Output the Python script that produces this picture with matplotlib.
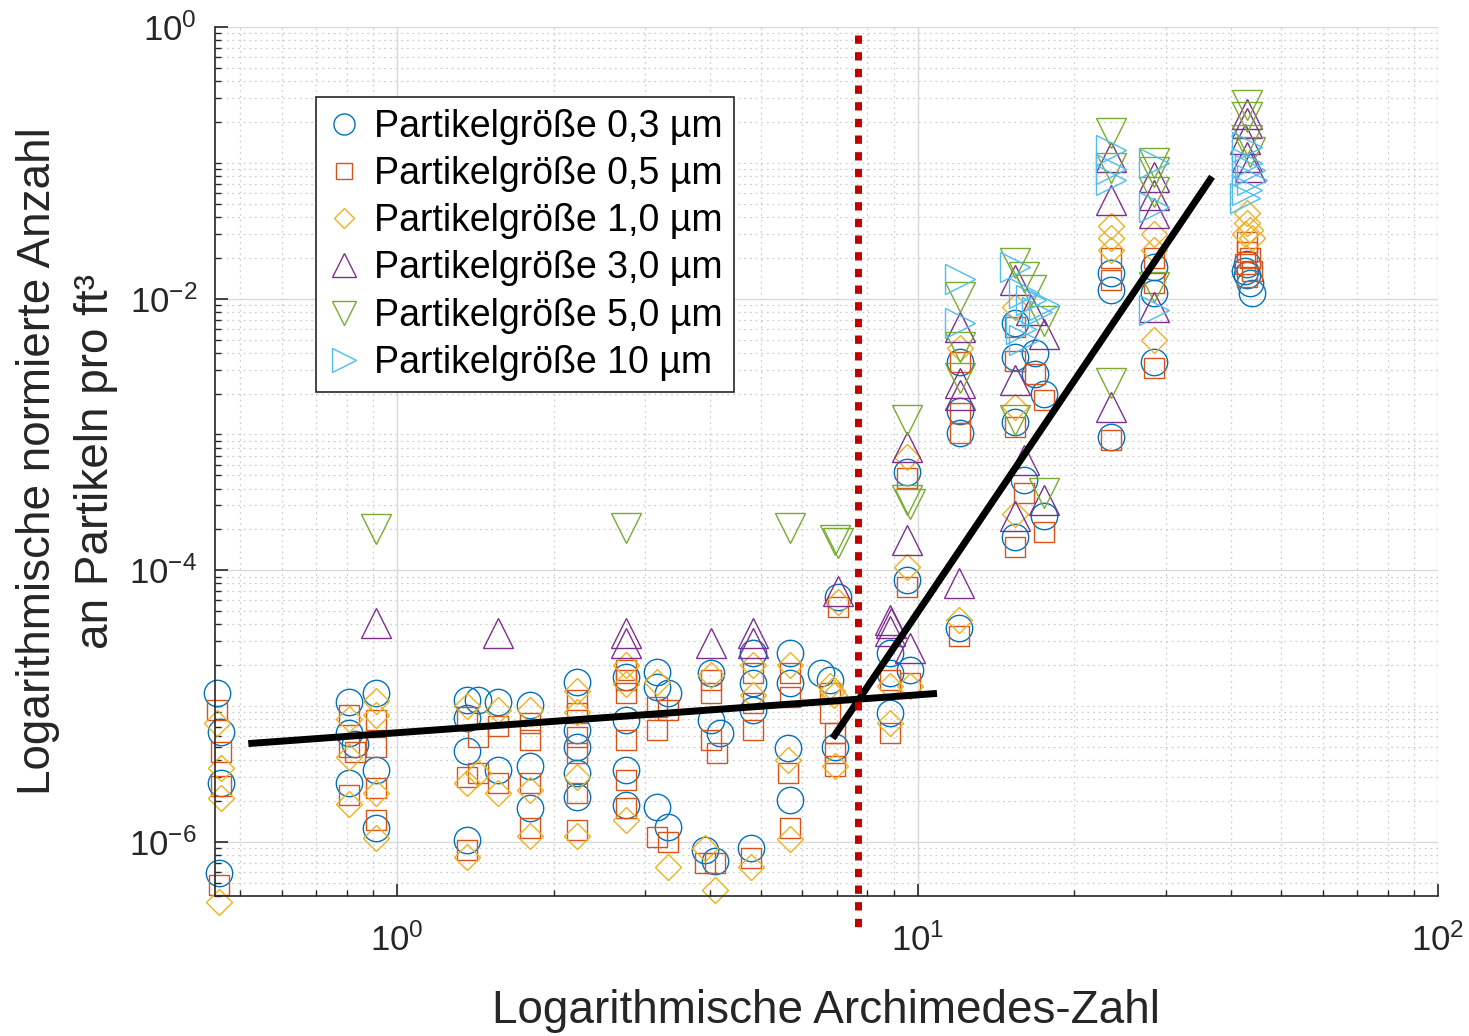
"""
Normierte Partikelanzahl ueber der Archimedes-Zahl (log-log), mit zwei
Regressionsgeraden und der Grenze bei Ar ~ 7,7.
"""

import matplotlib
matplotlib.use("Agg")
import matplotlib.pyplot as plt
from matplotlib.ticker import NullFormatter

plt.rcParams["font.family"] = ["Liberation Sans", "DejaVu Sans"]
plt.rcParams["mathtext.default"] = "regular"

# ---- data --------------------------------------------------------------
# 0,3 um (circles)
x_03 = [0.45, 0.46, 0.46, 0.455, 0.81, 0.81, 0.81, 0.83, 0.91, 0.91, 0.91,
        1.36, 1.36, 1.36, 1.36, 1.43, 1.56, 1.56, 1.80, 1.80, 1.80,
        2.22, 2.22, 2.22, 2.22, 2.22, 2.75, 2.75, 2.75, 2.75,
        3.16, 3.16, 3.16, 3.31, 3.31, 4.01, 4.01, 4.17, 3.90, 4.08,
        4.82, 4.82, 4.82, 4.78, 5.68, 5.68, 5.63, 5.68,
        6.52, 6.80, 6.93, 7.02, 8.87, 8.87, 8.87, 9.56, 9.56, 9.66,
        12.0, 12.05, 12.05, 12.05, 15.4, 15.4, 15.4, 15.4,
        16.8, 16.8, 16.0, 17.5, 17.5, 23.5, 23.5, 23.5,
        28.5, 28.5, 28.5, 43.0, 43.0, 43.5, 44.0, 42.5]
y_03 = [1.25e-5, 6.4e-6, 2.7e-6, 5.9e-7, 1.07e-5, 6.3e-6, 2.7e-6, 5.3e-6, 1.25e-5, 3.4e-6, 1.26e-6,
        1.11e-5, 8.2e-6, 4.7e-6, 1.03e-6, 1.11e-5, 1.07e-5, 3.4e-6, 1.02e-5, 3.6e-6, 1.77e-6,
        1.50e-5, 6.7e-6, 5.0e-6, 3.2e-6, 2.14e-6, 1.64e-5, 7.9e-6, 3.4e-6, 1.87e-6,
        1.78e-5, 1.38e-5, 1.80e-6, 1.29e-6, 1.25e-5, 1.75e-5, 7.9e-6, 6.3e-6, 8.7e-7, 7.3e-7,
        2.45e-5, 1.48e-5, 9.3e-6, 9.0e-7, 2.45e-5, 1.48e-5, 4.9e-6, 2.03e-6,
        1.75e-5, 1.55e-5, 5.0e-6, 6.4e-5, 2.45e-5, 1.75e-5, 8.9e-6, 5.3e-4, 8.5e-5, 1.84e-5,
        3.75e-5, 3.4e-3, 1.5e-3, 1.02e-3, 6.6e-3, 3.7e-3, 1.23e-3, 1.75e-4,
        4.0e-3, 2.8e-3, 4.6e-4, 2.0e-3, 2.5e-4, 1.54e-2, 1.16e-2, 9.6e-4,
        1.71e-2, 1.10e-2, 3.4e-3, 1.8e-2, 1.5e-2, 1.3e-2, 1.1e-2, 1.6e-2]

# 0,5 um (squares)
x_05 = [0.45, 0.46, 0.46, 0.455, 0.81, 0.81, 0.81, 0.83, 0.91, 0.91, 0.91, 0.91,
        1.36, 1.36, 1.36, 1.43, 1.43, 1.56, 1.56, 1.80, 1.80, 1.80, 1.80,
        2.22, 2.22, 2.22, 2.22, 2.22, 2.22, 2.75, 2.75, 2.75, 2.75, 2.75, 2.75,
        3.16, 3.16, 3.16, 3.31, 3.31, 4.01, 4.01, 4.01, 4.12, 3.90, 4.08,
        4.82, 4.82, 4.82, 4.78, 5.68, 5.68, 5.63, 5.68,
        6.80, 6.80, 6.93, 6.93, 6.93, 7.02, 8.87, 8.87, 9.56, 9.56, 9.66,
        12.0, 12.05, 12.05, 12.05, 15.4, 15.4, 15.4, 15.4,
        16.8, 17.5, 16.0, 17.5, 23.5, 23.5, 23.5, 28.5, 28.5, 28.5,
        43.0, 43.0, 43.5, 42.5, 44.0, 43.0]
y_05 = [9.3e-6, 4.6e-6, 2.6e-6, 4.8e-7, 8.6e-6, 5.0e-6, 2.2e-6, 4.6e-6, 7.9e-6, 5.0e-6, 2.5e-6, 1.45e-6,
        8.3e-6, 3.0e-6, 8.7e-7, 5.9e-6, 3.2e-6, 7.2e-6, 2.7e-6, 7.5e-6, 5.6e-6, 2.7e-6, 1.26e-6,
        1.11e-5, 8.9e-6, 5.9e-6, 4.5e-6, 2.3e-6, 1.22e-6, 1.84e-5, 1.55e-5, 1.25e-5, 5.6e-6, 2.85e-6, 1.77e-6,
        9.8e-6, 6.7e-6, 1.08e-6, 9.3e-6, 1.0e-6, 1.55e-5, 1.25e-5, 5.6e-6, 4.5e-6, 7.0e-7, 7.0e-7,
        1.75e-5, 1.05e-5, 6.7e-6, 7.6e-7, 1.75e-5, 1.16e-5, 3.2e-6, 1.26e-6,
        1.25e-5, 8.9e-6, 6.3e-6, 4.5e-6, 3.6e-6, 5.4e-5, 1.55e-5, 6.3e-6, 4.8e-4, 7.5e-5, 1.48e-5,
        3.3e-5, 3.4e-3, 1.44e-3, 1.02e-3, 6.2e-3, 3.5e-3, 1.13e-3, 1.48e-4,
        2.8e-3, 1.8e-3, 3.7e-4, 1.9e-4, 2.0e-2, 1.37e-2, 9.1e-4, 2.0e-2, 1.30e-2, 3.1e-3,
        2.6e-2, 2.2e-2, 2.0e-2, 1.8e-2, 1.6e-2, 1.44e-2]

# 1,0 um (diamonds)
x_10 = [0.45, 0.46, 0.46, 0.455, 0.81, 0.81, 0.81, 0.91, 0.91, 0.91, 0.91,
        1.36, 1.36, 1.36, 1.43, 1.56, 1.56, 1.80, 1.80, 1.80,
        2.22, 2.22, 2.22, 2.22, 2.75, 2.75, 2.75, 3.16, 3.31,
        4.01, 4.08, 3.90, 4.82, 4.82, 4.78, 5.68, 5.63, 5.68,
        6.80, 6.85, 6.90, 6.93, 7.02, 8.87, 8.87, 9.56, 9.56, 9.66,
        12.0, 12.05, 15.4, 15.4, 15.4, 23.5, 23.5, 23.5, 28.5, 28.5, 28.5,
        43.0, 43.0, 43.5, 42.5, 44.0]
y_10 = [7.5e-6, 3.5e-6, 2.1e-6, 3.6e-7, 8.0e-6, 4.2e-6, 1.9e-6, 1.1e-5, 8.6e-6, 2.3e-6, 1.07e-6,
        1.0e-5, 2.7e-6, 7.7e-7, 3.2e-6, 9.3e-6, 2.3e-6, 9.3e-6, 2.4e-6, 1.1e-6,
        1.3e-5, 9.0e-6, 3.0e-6, 1.1e-6, 2.0e-5, 1.45e-5, 1.45e-6, 1.5e-5, 6.5e-7,
        1.7e-5, 4.4e-7, 9.0e-7, 2.0e-5, 1.2e-5, 6.5e-7, 2.0e-5, 4.0e-6, 1.05e-6,
        1.4e-5, 1.3e-5, 1.2e-5, 3.6e-6, 5.8e-5, 1.4e-5, 7.5e-6, 6.8e-4, 1.06e-4, 1.4e-5,
        4.3e-5, 4.3e-3, 8.7e-3, 1.6e-3, 2.6e-4, 3.4e-2, 2.8e-2, 2.3e-2, 3.0e-2, 2.3e-2, 5.0e-3,
        4.3e-2, 3.6e-2, 3.2e-2, 3.0e-2, 2.8e-2]

# 3,0 um (triangles up)
x_30 = [0.91, 1.56, 2.75, 2.75, 4.01, 4.82, 4.82, 7.02,
        8.87, 8.87, 8.90, 9.66, 9.56, 9.56, 12.0,
        12.05, 12.05, 12.05, 15.4, 15.4, 16.5, 17.5, 16.0, 17.5, 15.4,
        23.5, 23.5, 23.5, 28.5, 28.5, 28.5, 28.5,
        43.0, 43.0, 43.0, 43.5, 42.5]
y_30 = [4.1e-5, 3.45e-5, 3.45e-5, 2.9e-5, 2.9e-5, 3.45e-5, 2.9e-5, 7.1e-5,
        4.3e-5, 3.6e-5, 4.1e-5, 2.7e-5, 8.1e-4, 1.67e-4, 8.1e-5,
        6.2e-3, 2.4e-3, 1.95e-3, 1.37e-2, 2.5e-3, 8.2e-3, 5.5e-3, 6.5e-4, 3.3e-4, 2.5e-4,
        1.1e-1, 5.3e-2, 1.6e-3, 7.9e-2, 5.8e-2, 4.3e-2, 8.7e-3,
        2.3e-1, 1.96e-1, 1.1e-1, 9.3e-2, 1.5e-1]

# 5,0 um (triangles down)
x_50 = [0.91, 2.75, 5.68, 6.93, 7.02, 9.56, 9.56, 9.66,
        12.05, 12.05, 12.05, 15.4, 16.0, 16.5, 17.5, 15.4, 17.5,
        23.5, 23.5, 23.5, 28.5, 28.5, 28.5, 28.5,
        43.0, 43.0, 43.0, 43.5]
y_50 = [2.0e-4, 2.05e-4, 2.05e-4, 1.67e-4, 1.6e-4, 1.28e-3, 3.3e-4, 3.1e-4,
        1.03e-2, 4.4e-3, 2.6e-3, 1.83e-2, 1.44e-2, 1.16e-2, 6.9e-3, 1.28e-3, 3.7e-4,
        1.66e-1, 9.2e-2, 2.4e-3, 1.0e-1, 8.6e-2, 6.1e-2, 1.22e-2,
        2.67e-1, 2.17e-1, 1.47e-1, 1.2e-1]

# 10 um (triangles right)
x_100 = [12.05, 12.05, 15.4, 16.0, 16.5, 17.0, 17.5, 16.0, 15.8,
         23.5, 23.5, 23.5, 28.5, 28.5, 28.5,
         43.0, 43.0, 43.5, 44.0, 43.0, 42.5]
y_100 = [1.4e-2, 6.6e-3, 1.71e-2, 1.1e-2, 9.8e-3, 8.0e-3, 9.0e-3, 5.0e-3, 6.0e-3,
         1.24e-1, 9.0e-2, 7.5e-2, 1.0e-1, 4.7e-2, 8.2e-3,
         1.31e-1, 1.0e-1, 8.9e-2, 7.5e-2, 6.3e-2, 5.5e-2]

labels = ["Partikelgröße 0,3 µm", "Partikelgröße 0,5 µm", "Partikelgröße 1,0 µm",
          "Partikelgröße 3,0 µm", "Partikelgröße 5,0 µm", "Partikelgröße 10 µm"]

# regression lines (end points) and the critical Archimedes number
fit_low_x = [0.518, 10.9]
fit_low_y = [5.3e-6, 1.24e-5]
fit_high_x = [6.87, 36.8]
fit_high_y = [5.8e-6, 7.9e-2]
ar_crit = 7.7

# ---- plot ---------------------------------------------------------------
series = [(x_03, y_03, "o", "#0072BD", 19),
          (x_05, y_05, "s", "#D95319", 14),
          (x_10, y_10, "D", "#EDB120", 13),
          (x_30, y_30, "^", "#7E2F8E", 21),
          (x_50, y_50, "v", "#77AC30", 21),
          (x_100, y_100, ">", "#4DBEEE", 21)]

fig = plt.figure(figsize=(14.69, 10.36), dpi=100)
ax = fig.add_axes([215 / 1469, 1 - 896 / 1036, (1438 - 215) / 1469, (896 - 27) / 1036])

for (xs, ys, mk, col, ms), lab in zip(series, labels):
    ax.plot(xs, ys, linestyle="none", marker=mk, markersize=ms, markerfacecolor="none",
            markeredgecolor=col, markeredgewidth=1.0, label=lab, clip_on=False)

ax.plot(fit_low_x, fit_low_y, color="black", linewidth=5, solid_capstyle="butt")
ax.plot(fit_high_x, fit_high_y, color="black", linewidth=5, solid_capstyle="butt")
ax.plot([ar_crit, ar_crit], [0.87, 2.2e-7], color="#C00000", linewidth=5,
        linestyle=(0, (1.2, 1.2)), clip_on=False)

ax.set_xscale("log")
ax.set_yscale("log")

ax.set_xticks([1, 10, 100], ["$10^{0}$", "$10^{1}$", "$10^{2}$"])
ax.set_xticks([k * 10.0 ** e for e in (-1, 0, 1) for k in range(2, 10)], minor=True)
ax.set_yticks([1e-6, 1e-4, 1e-2, 1], ["$10^{-6}$", "$10^{-4}$", "$10^{-2}$", "$10^{0}$"])
ymin_ticks = [k * 10.0 ** e for e in range(-7, 0) for k in range(1, 10)
              if not (k == 1 and e % 2 == 0)]
ax.set_yticks(ymin_ticks, minor=True)
ax.xaxis.set_minor_formatter(NullFormatter())
ax.yaxis.set_minor_formatter(NullFormatter())
ax.set_xlim(0.447, 100)
ax.set_ylim(4e-7, 1)

ax.grid(True, which="major", color="#dadada", linewidth=1.0, linestyle="-")
ax.grid(True, which="minor", color="#cfcfcf", linewidth=0.9, linestyle=(0, (1.5, 3)))
ax.set_axisbelow(True)

for side in ("top", "right"):
    ax.spines[side].set_visible(False)
for side in ("left", "bottom"):
    ax.spines[side].set_color("#262626")
    ax.spines[side].set_linewidth(1.2)

ax.tick_params(which="both", direction="in", colors="#262626", labelsize=25,
               top=False, right=False)
ax.tick_params(which="major", length=9, width=1.2)
ax.tick_params(which="minor", length=4.5, width=1.0)
ax.tick_params(axis="x", which="major", pad=20)
ax.tick_params(axis="y", which="major", pad=13)

ax.set_xlabel("Logarithmische Archimedes-Zahl", fontsize=33, color="#262626", labelpad=22)
ax.set_ylabel("Logarithmische normierte Anzahl\nan Partikeln pro ft³", fontsize=33,
              color="#262626", labelpad=8, linespacing=1.42)

leg = ax.legend(loc="upper left", bbox_to_anchor=(0.0826, 0.919), borderaxespad=0,
                fontsize=27, frameon=True, fancybox=False, framealpha=1,
                edgecolor="#262626", handlelength=0.9, handletextpad=0.35,
                labelspacing=0.3, borderpad=0.3, markerscale=0.8)
leg.get_frame().set_linewidth(1.2)

fig.savefig("out.png", dpi=100)
